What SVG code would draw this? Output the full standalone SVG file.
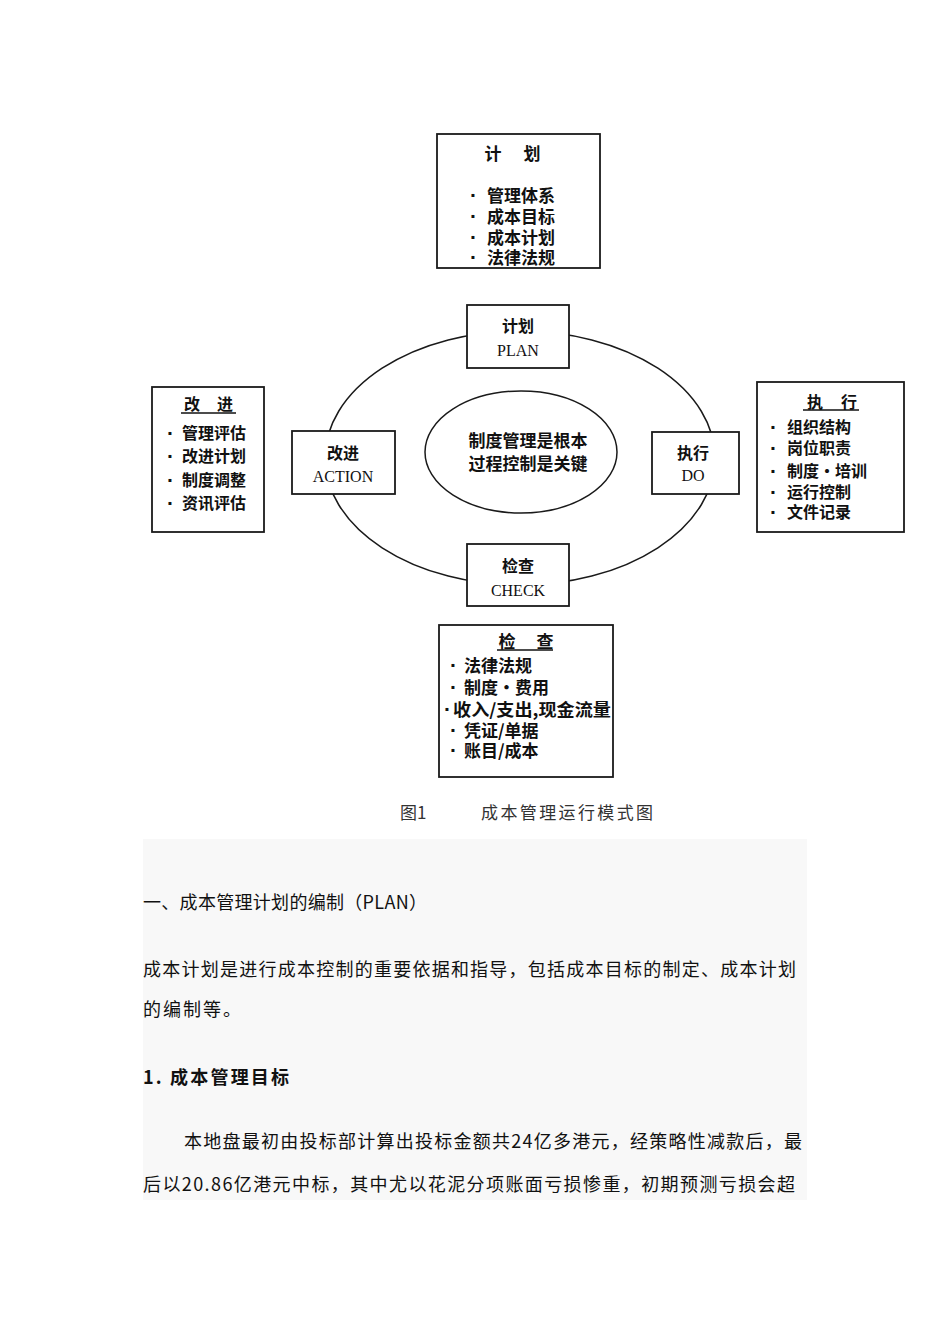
<svg xmlns="http://www.w3.org/2000/svg" width="950" height="1344" viewBox="0 0 950 1344">
<style>
.box{fill:#fff;stroke:#1a1a1a;stroke-width:1.8}
.ring{fill:none;stroke:#1a1a1a;stroke-width:1.5}
.cn{font-family:"Noto Sans CJK SC","Noto Sans CJK TC",sans-serif;font-weight:bold;fill:#111;dominant-baseline:central}
.bu{font-family:"Liberation Sans",sans-serif;font-weight:bold;font-size:21px}
.lat{font-family:"Liberation Serif",serif;fill:#111;dominant-baseline:central;font-size:16px}
.ul{stroke:#111;stroke-width:1.5}
.body{font-family:"Noto Sans CJK SC",sans-serif;font-size:18px;fill:#111;dominant-baseline:central}
.cap{font-family:"Noto Sans CJK SC",sans-serif;font-size:17px;fill:#333;dominant-baseline:central}
</style>
<rect width="950" height="1344" fill="#fff"/>
<rect x="143" y="839" width="664" height="361" fill="#f8f8f8"/>

<g id="connectors">
<ellipse class="ring" cx="520" cy="458" rx="195" ry="127"/>
</g>

<g id="core">
<ellipse class="ring" cx="521" cy="452" rx="96" ry="61" fill="#fff"/>
<text class="cn" font-size="17" x="528" y="439" text-anchor="middle">制度管理是根本</text>
<text class="cn" font-size="17" x="528" y="462" text-anchor="middle">过程控制是关键</text>
</g>

<g id="plan">
<rect class="box" x="467" y="305" width="102" height="63"/>
<text class="cn" font-size="16" x="518" y="325" text-anchor="middle">计划</text>
<text class="lat" x="518" y="350" text-anchor="middle">PLAN</text>
</g>

<g id="action">
<rect class="box" x="292" y="431" width="103" height="63"/>
<text class="cn" font-size="16" x="343" y="452" text-anchor="middle">改进</text>
<text class="lat" x="343" y="476" text-anchor="middle">ACTION</text>
</g>

<g id="do">
<rect class="box" x="652" y="432" width="87" height="62"/>
<text class="cn" font-size="16" x="693" y="452" text-anchor="middle">执行</text>
<text class="lat" x="693" y="475" text-anchor="middle">DO</text>
</g>

<g id="check">
<rect class="box" x="467" y="544" width="102" height="62"/>
<text class="cn" font-size="16" x="518" y="565" text-anchor="middle">检查</text>
<text class="lat" x="518" y="590" text-anchor="middle">CHECK</text>
</g>

<g id="plan-detail">
<rect class="box" x="437" y="134" width="163" height="134"/>
<text class="cn" font-size="17" y="152" text-anchor="middle"><tspan x="493">计</tspan><tspan x="532">划</tspan></text>
<text class="cn" font-size="17" y="194"><tspan class="bu" x="470">·</tspan><tspan x="487">管理体系</tspan></text>
<text class="cn" font-size="17" y="215"><tspan class="bu" x="470">·</tspan><tspan x="487">成本目标</tspan></text>
<text class="cn" font-size="17" y="236"><tspan class="bu" x="470">·</tspan><tspan x="487">成本计划</tspan></text>
<text class="cn" font-size="17" y="256"><tspan class="bu" x="470">·</tspan><tspan x="487">法律法规</tspan></text>
</g>

<g id="action-detail">
<rect class="box" x="152" y="387" width="112" height="145"/>
<text class="cn" font-size="16" y="403" text-anchor="middle"><tspan x="192">改</tspan><tspan x="225">进</tspan></text>
<line class="ul" x1="181" y1="413" x2="236" y2="413"/>
<text class="cn" font-size="16" y="432"><tspan class="bu" x="167">·</tspan><tspan x="182">管理评估</tspan></text>
<text class="cn" font-size="16" y="455"><tspan class="bu" x="167">·</tspan><tspan x="182">改进计划</tspan></text>
<text class="cn" font-size="16" y="479"><tspan class="bu" x="167">·</tspan><tspan x="182">制度调整</tspan></text>
<text class="cn" font-size="16" y="502"><tspan class="bu" x="167">·</tspan><tspan x="182">资讯评估</tspan></text>
</g>

<g id="do-detail">
<rect class="box" x="757" y="382" width="147" height="150"/>
<text class="cn" font-size="16" y="401" text-anchor="middle"><tspan x="815">执</tspan><tspan x="849">行</tspan></text>
<line class="ul" x1="803" y1="410" x2="859" y2="410"/>
<text class="cn" font-size="16" y="426"><tspan class="bu" x="770">·</tspan><tspan x="787">组织结构</tspan></text>
<text class="cn" font-size="16" y="447"><tspan class="bu" x="770">·</tspan><tspan x="787">岗位职责</tspan></text>
<text class="cn" font-size="16" y="470"><tspan class="bu" x="770">·</tspan><tspan x="787">制度・培训</tspan></text>
<text class="cn" font-size="16" y="491"><tspan class="bu" x="770">·</tspan><tspan x="787">运行控制</tspan></text>
<text class="cn" font-size="16" y="511"><tspan class="bu" x="770">·</tspan><tspan x="787">文件记录</tspan></text>
</g>

<g id="check-detail">
<rect class="box" x="439" y="625" width="174" height="152"/>
<text class="cn" font-size="17" y="640" text-anchor="middle"><tspan x="507">检</tspan><tspan x="545">查</tspan></text>
<line class="ul" x1="497" y1="650" x2="553" y2="650"/>
<text class="cn" font-size="17" y="664"><tspan class="bu" x="450">·</tspan><tspan x="464">法律法规</tspan></text>
<text class="cn" font-size="17" y="686"><tspan class="bu" x="450">·</tspan><tspan x="464">制度・费用</tspan></text>
<text class="cn" font-size="17" y="708"><tspan class="bu" x="444">·</tspan><tspan x="453" textLength="158" lengthAdjust="spacingAndGlyphs">收入/支出,现金流量</tspan></text>
<text class="cn" font-size="17" y="729"><tspan class="bu" x="450">·</tspan><tspan x="464">凭证/单据</tspan></text>
<text class="cn" font-size="17" y="749"><tspan class="bu" x="450">·</tspan><tspan x="464">账目/成本</tspan></text>
</g>

<g id="caption">
<text class="cap" x="400" y="811">图1</text>
<text class="cap" x="481" y="811" textLength="172" lengthAdjust="spacing">成本管理运行模式图</text>
</g>

<g id="text-body">
<text class="body" x="143" y="901" textLength="284" lengthAdjust="spacing">一、成本管理计划的编制（PLAN）</text>
<text class="body" x="143" y="968" textLength="653" lengthAdjust="spacing">成本计划是进行成本控制的重要依据和指导，包括成本目标的制定、成本计划</text>
<text class="body" x="143" y="1008" letter-spacing="2">的编制等。</text>
<text class="body" x="143" y="1076" font-weight="bold" textLength="146" lengthAdjust="spacing">1. 成本管理目标</text>
<text class="body" x="184" y="1140" textLength="618" lengthAdjust="spacing">本地盘最初由投标部计算出投标金额共24亿多港元，经策略性减款后，最</text>
<text class="body" x="143" y="1183" textLength="652" lengthAdjust="spacing">后以20.86亿港元中标，其中尤以花泥分项账面亏损惨重，初期预测亏损会超</text>
</g>
</svg>
